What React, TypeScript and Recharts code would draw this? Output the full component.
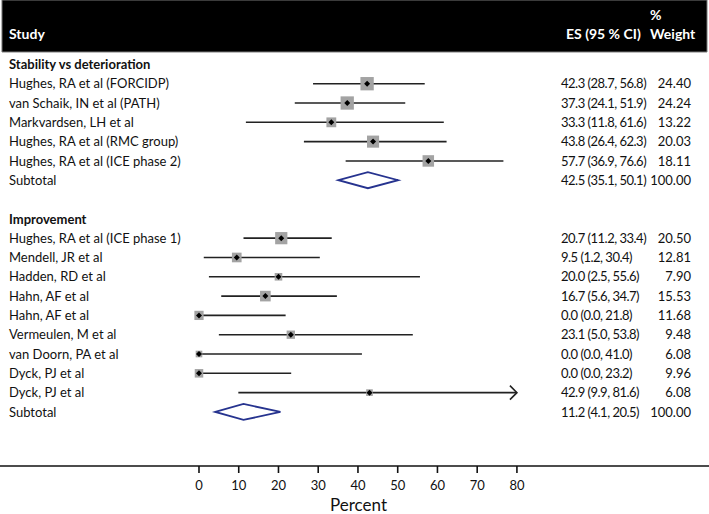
import { type JSX } from 'react'
import {
  ScatterChart,
  Scatter,
  XAxis,
  YAxis,
  ReferenceLine,
  ReferenceArea,
} from 'recharts'

// one entry per row of the plot, top to bottom
const rowLabels = [
  'Stability vs deterioration',
  'Hughes, RA et al (FORCIDP)',
  'van Schaik, IN et al (PATH)',
  'Markvardsen, LH et al',
  'Hughes, RA et al (RMC group)',
  'Hughes, RA et al (ICE phase 2)',
  'Subtotal',
  '',
  'Improvement',
  'Hughes, RA et al (ICE phase 1)',
  'Mendell, JR et al',
  'Hadden, RD et al',
  'Hahn, AF et al',
  'Hahn, AF et al',
  'Vermeulen, M et al',
  'van Doorn, PA et al',
  'Dyck, PJ et al',
  'Dyck, PJ et al',
  'Subtotal',
]
const rowKinds = [
  'group', 'study', 'study', 'study', 'study', 'study', 'subtotal', 'blank',
  'group', 'study', 'study', 'study', 'study', 'study', 'study', 'study', 'study', 'study', 'subtotal',
]
const es = [null, 42.3, 37.3, 33.3, 43.8, 57.7, 42.5, null, null, 20.7, 9.5, 20.0, 16.7, 0.0, 23.1, 0.0, 0.0, 42.9, 11.2]
const ciLow = [null, 28.7, 24.1, 11.8, 26.4, 36.9, 35.1, null, null, 11.2, 1.2, 2.5, 5.6, 0.0, 5.0, 0.0, 0.0, 9.9, 4.1]
const ciHigh = [null, 56.8, 51.9, 61.6, 62.3, 76.6, 50.1, null, null, 33.4, 30.4, 55.6, 34.7, 21.8, 53.8, 41.0, 23.2, 81.6, 20.5]
const weights = [null, 24.4, 24.24, 13.22, 20.03, 18.11, 100.0, null, null, 20.5, 12.81, 7.9, 15.53, 11.68, 9.48, 6.08, 9.96, 6.08, 100.0]
const xTicks = [0, 10, 20, 30, 40, 50, 60, 70, 80]

const X_MAX_SHOWN = 80
const X_DOMAIN: [number, number] = [-50.07, 128.33]
const Y_DOMAIN: [number, number] = [-3.335, 20.8]
const HEADER_BOTTOM = -0.642

const FONT = 'Lato, "Open Sans", sans-serif'

const rowIdx = rowLabels.map((_, i) => i).filter((i) => rowKinds[i] !== 'blank')
const points = rowIdx
  .filter((i) => rowKinds[i] === 'study')
  .map((i) => ({ x: es[i] as number, y: i, w: weights[i] as number }))
const textRows = rowIdx.map((i) => ({ x: 0, y: i, row: i }))

const RowText = (props: any): JSX.Element => {
  const { cy, payload } = props
  const i = payload.row as number
  const kind = rowKinds[i]
  const e = es[i]
  return (
    <g>
      <text x={9} y={cy} dy="0.36em" fontFamily={FONT} fontSize={13} fontWeight={kind === 'group' ? 700 : 400} fill="#111">
        {rowLabels[i]}
      </text>
      {e != null && (
        <>
          <text x={561} y={cy} dy="0.36em" fontFamily={FONT} fontSize={13} letterSpacing={-0.5} fill="#111">
            {`${e.toFixed(1)} (${(ciLow[i] as number).toFixed(1)}, ${(ciHigh[i] as number).toFixed(1)})`}
          </text>
          <text x={691} y={cy} dy="0.36em" textAnchor="end" fontFamily={FONT} fontSize={13} fill="#111">
            {(weights[i] as number).toFixed(2)}
          </text>
        </>
      )}
    </g>
  )
}

const HeaderText = (props: any): JSX.Element => {
  const { viewBox } = props
  const bottom = viewBox.y + viewBox.height
  const t = { fontFamily: FONT, fontSize: 14, fontWeight: 700, fill: '#fff' }
  return (
    <g>
      <text x={9} y={bottom - 13} {...t}>Study</text>
      <text x={566} y={bottom - 13} {...t}>ES (95 % CI)</text>
      <text x={650} y={bottom - 32} {...t}>%</text>
      <text x={650} y={bottom - 13} {...t}>Weight</text>
    </g>
  )
}

const StudyBox = (props: any): JSX.Element => {
  const { cx, cy, payload } = props
  const s = 2.7 * Math.sqrt(payload.w)
  return (
    <g>
      <rect x={cx - s / 2} y={cy - s / 2} width={s} height={s} fill="#a3a3a3" />
      <polygon
        points={`${cx - 3},${cy} ${cx},${cy - 3} ${cx + 3},${cy} ${cx},${cy + 3}`}
        fill="#000"
      />
    </g>
  )
}

const CiLine = (arrow: boolean) => (p: any): JSX.Element => (
  <g>
    <line x1={p.x1} y1={p.y1} x2={p.x2} y2={p.y2} stroke="#222" strokeWidth={1.6} />
    {arrow && (
      <polyline
        points={`${p.x2 - 7},${p.y2 - 7} ${p.x2},${p.y2} ${p.x2 - 7},${p.y2 + 7}`}
        fill="none"
        stroke="#222"
        strokeWidth={1.6}
      />
    )}
  </g>
)

const Diamond = (i: number) => (p: any): JSX.Element => {
  const lo = ciLow[i] as number
  const hi = ciHigh[i] as number
  const e = es[i] as number
  const mid = p.x1 + ((e - lo) / (hi - lo)) * (p.x2 - p.x1)
  const y = p.y1
  return (
    <polygon
      points={`${p.x1},${y} ${mid},${y - 8} ${p.x2},${y} ${mid},${y + 8}`}
      fill="none"
      stroke="#26338f"
      strokeWidth={1.8}
    />
  )
}

export default function App(): JSX.Element {
  return (
    <div style={{ position: 'absolute', left: 0, top: 0, width: 709, height: 514, background: '#fff' }}>
      <ScatterChart width={709} height={514} margin={{ top: 0, right: 0, bottom: 0, left: 0 }}>
        <XAxis
          type="number"
          dataKey="x"
          domain={X_DOMAIN}
          ticks={xTicks}
          allowDataOverflow
          height={48}
          axisLine={{ stroke: '#111', strokeWidth: 1.6 }}
          tickLine={{ stroke: '#111', strokeWidth: 1.6 }}
          tickSize={7}
          tickMargin={8}
          tick={{ fontSize: 13, fill: '#111', fontFamily: FONT }}
          label={{ value: 'Percent', position: 'insideBottom', offset: 3, dx: 4, fontSize: 17, fill: '#111', fontFamily: FONT }}
        />
        <YAxis
          type="number"
          dataKey="y"
          domain={Y_DOMAIN}
          reversed
          allowDataOverflow
          width={0}
          hide
        />
        <ReferenceArea
          x1={X_DOMAIN[0] + 0.5}
          x2={X_DOMAIN[1] - 0.5}
          y1={Y_DOMAIN[0]}
          y2={HEADER_BOTTOM}
          fill="#000"
          fillOpacity={1}
          stroke="#777"
          label={<HeaderText />}
        />
        {rowIdx
          .filter((i) => rowKinds[i] === 'study')
          .map((i) => {
            const hi = ciHigh[i] as number
            const clipped = hi > X_MAX_SHOWN
            return (
              <ReferenceLine
                key={`ci-${i}`}
                segment={[
                  { x: ciLow[i] as number, y: i },
                  { x: clipped ? X_MAX_SHOWN : hi, y: i },
                ]}
                shape={CiLine(clipped)}
              />
            )
          })}
        {rowIdx
          .filter((i) => rowKinds[i] === 'subtotal')
          .map((i) => (
            <ReferenceLine
              key={`sub-${i}`}
              segment={[
                { x: ciLow[i] as number, y: i },
                { x: ciHigh[i] as number, y: i },
              ]}
              shape={Diamond(i)}
            />
          ))}
        <Scatter data={points} shape={<StudyBox />} isAnimationActive={false} />
        <Scatter data={textRows} shape={<RowText />} isAnimationActive={false} />
      </ScatterChart>
    </div>
  )
}
